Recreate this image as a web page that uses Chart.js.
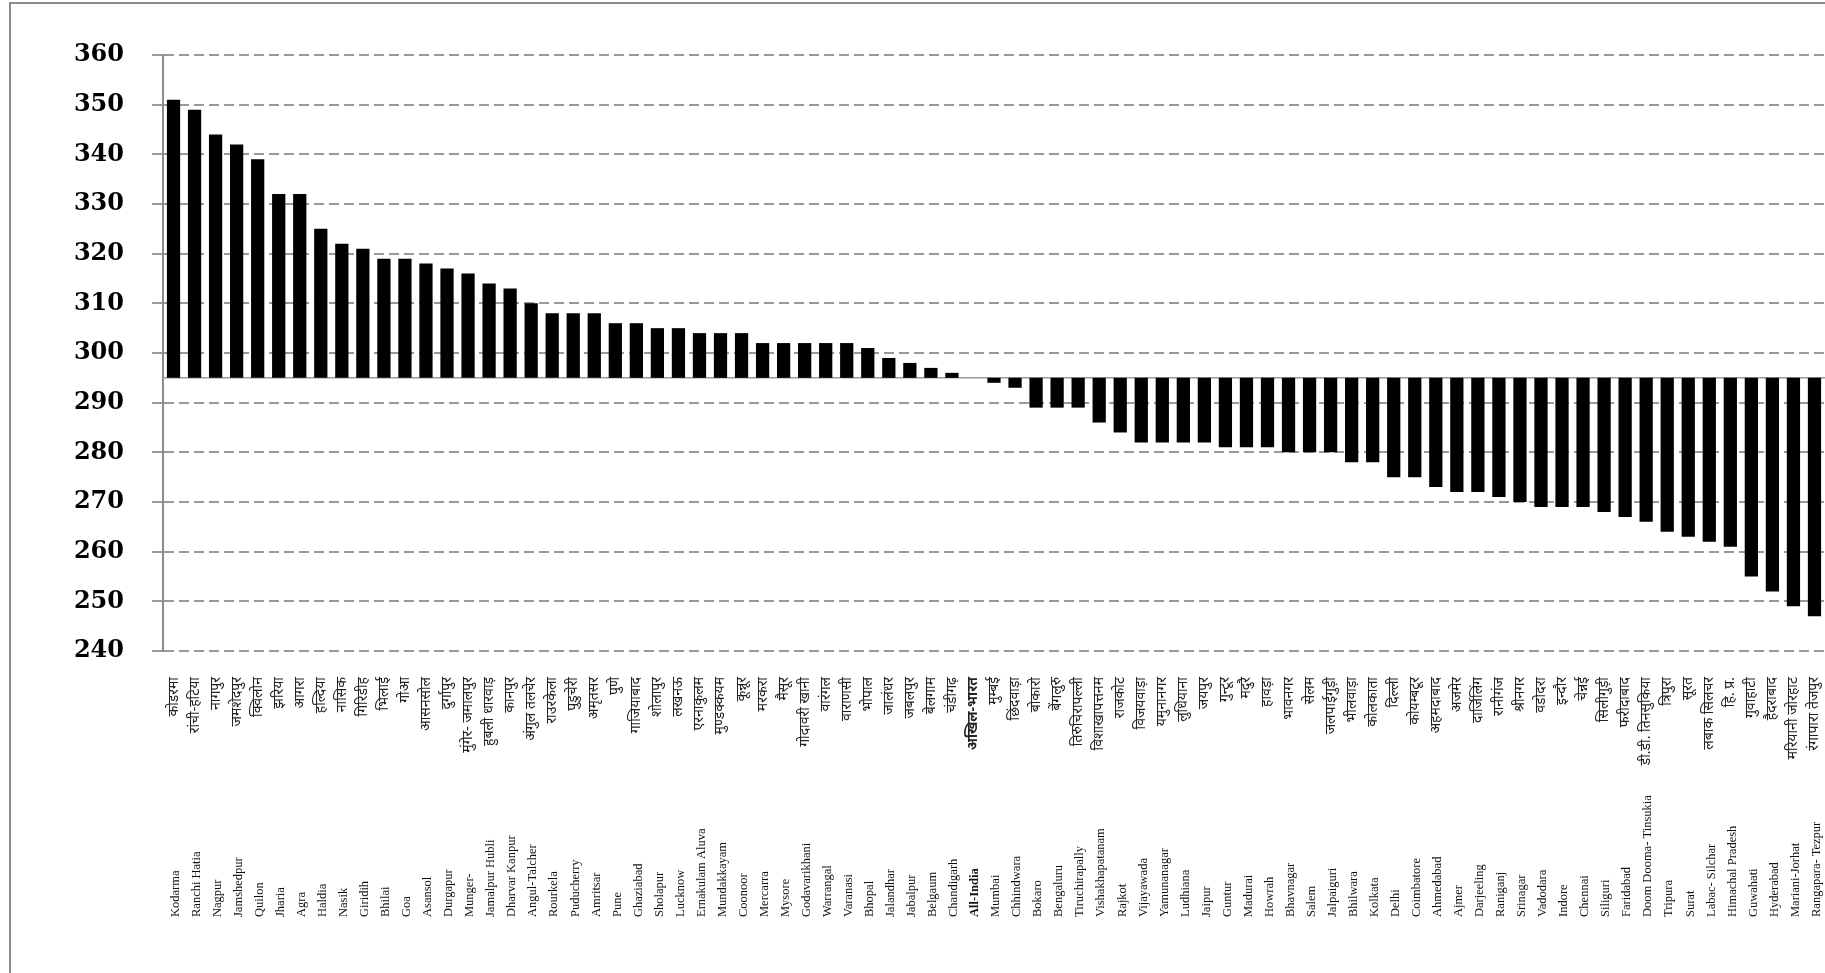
<!DOCTYPE html>
<html>
<head>
<meta charset="utf-8">
<script src="https://cdn.jsdelivr.net/npm/chart.js@4/dist/chart.umd.min.js"></script>
<style>
  html, body { margin: 0; padding: 0; background: #fff; overflow: hidden; }
  #frame { position: absolute; left: 9px; top: 2px; width: 3000px; height: 3000px; border: 2px solid #8c8c8c; box-sizing: border-box; }
  #wrap { position: absolute; left: 0; top: 0; width: 1825px; height: 973px; }
</style>
</head>
<body>
<div id="frame"></div>
<div id="wrap"><canvas id="c" width="1825" height="973"></canvas></div>
<script>
const categoriesHi = [
  'कोडरमा','रांची-हटिया','नागपुर','जमशेदपुर','क्विलोन','झरिया','आगरा','हल्दिया','नासिक','गिरिडीह',
  'भिलाई','गोआ','आसनसोल','दुर्गापुर','मुंगेर- जमालपुर','हुबली धारवाड़','कानपुर','अंगुल तलचेर','राउरकेला','पुडुचेरी',
  'अमृतसर','पुणे','गाजियाबाद','शोलापुर','लखनऊ','एरनाकुलम','मुण्डक्कयम','कून्नूर','मरकरा','मैसूर',
  'गोदावरी खानी','वारंगल','वाराणसी','भोपाल','जालंधर','जबलपुर','बेलगाम','चंडीगढ़','अखिल-भारत','मुम्बई',
  'छिंदवाड़ा','बोकारो','बेंगलुरु','तिरुचिरापल्ली','विशाखापत्तनम','राजकोट','विजयवाड़ा','यमुनानगर','लुधियाना','जयपुर',
  'गुन्टूर','मदुरै','हावड़ा','भावनगर','सेलम','जलपाईगुड़ी','भीलवाड़ा','कोलकाता','दिल्ली','कोयम्बटूर',
  'अहमदाबाद','अजमेर','दार्जिलिंग','रानीगंज','श्रीनगर','वडोदरा','इन्दौर','चेन्नई','सिलीगुड़ी','फरीदाबाद',
  'डी.डी. तिनसुकिया','त्रिपुरा','सूरत','लबाक सिलचर','हि. प्र.','गुवाहाटी','हैदराबाद','मरियानी जोरहाट','रंगापारा तेजपुर'
];
const categoriesEn = [
  'Kodarma','Ranchi Hatia','Nagpur','Jamshedpur','Quilon','Jharia','Agra','Haldia','Nasik','Giridih',
  'Bhilai','Goa','Asansol','Durgapur','Munger-','Jamalpur Hubli','Dharvar Kanpur','Angul-Talcher','Rourkela','Puducherry',
  'Amritsar','Pune','Ghaziabad','Sholapur','Lucknow','Ernakulam Aluva','Mundakkayam','Coonoor','Mercarra','Mysore',
  'Godavarikhani','Warrangal','Varanasi','Bhopal','Jalandhar','Jabalpur','Belgaum','Chandigarh','All-India','Mumbai',
  'Chhindwara','Bokaro','Bengaluru','Tiruchirapally','Vishakhapatanam','Rajkot','Vijayawada','Yamunanagar','Ludhiana','Jaipur',
  'Guntur','Madurai','Howrah','Bhavnagar','Salem','Jalpaiguri','Bhilwara','Kolkata','Delhi','Coimbatore',
  'Ahmedabad','Ajmer','Darjeeling','Raniganj','Srinagar','Vadodara','Indore','Chennai','Siliguri','Faridabad',
  'Doom Dooma- Tinsukia','Tripura','Surat','Labac- Silchar','Himachal Pradesh','Guwahati','Hyderabad','Mariani-Jorhat','Rangapara- Tezpur'
];
const indexValues = [
  351,349,344,342,339,332,332,325,322,321,
  319,319,318,317,316,314,313,310,308,308,
  308,306,306,305,305,304,304,304,302,302,
  302,302,302,301,299,298,297,296,295,294,
  293,289,289,289,286,284,282,282,282,282,
  281,281,281,280,280,280,278,278,275,275,
  273,272,272,271,270,269,269,269,268,267,
  266,264,263,262,261,255,252,249,247
];
const baseValue = 295;
const yMin = 240, yMax = 360, yStep = 10;
const boldIndex = categoriesEn.indexOf('All-India');

const baselinePlugin = {
  id: 'baseline',
  beforeDatasetsDraw(chart) {
    const y = chart.scales.y.getPixelForValue(baseValue);
    const a = chart.chartArea;
    const ctx = chart.ctx;
    ctx.save();
    ctx.strokeStyle = '#9a9a9a';
    ctx.lineWidth = 1.5;
    ctx.beginPath();
    ctx.moveTo(a.left, y);
    ctx.lineTo(a.right, y);
    ctx.stroke();
    ctx.restore();
  }
};

const englishLabelsPlugin = {
  id: 'englishLabels',
  afterDraw(chart) {
    const xs = chart.scales.x;
    const ctx = chart.ctx;
    ctx.save();
    ctx.fillStyle = '#111';
    ctx.textAlign = 'left';
    ctx.textBaseline = 'middle';
    categoriesEn.forEach((lab, i) => {
      const x = xs.getPixelForValue(i) + 2;
      ctx.font = (i === boldIndex ? 'bold ' : '') + '12.5px "Liberation Serif", "Times New Roman", serif';
      ctx.save();
      ctx.translate(x, 917);
      ctx.rotate(-Math.PI / 2);
      ctx.fillText(lab, 0, 0);
      ctx.restore();
    });
    ctx.restore();
  }
};

new Chart(document.getElementById('c'), {
  type: 'bar',
  data: {
    labels: categoriesHi,
    datasets: [{
      data: indexValues,
      base: baseValue,
      backgroundColor: '#000',
      borderWidth: 0,
      barPercentage: 0.63,
      categoryPercentage: 1.0
    }]
  },
  options: {
    responsive: false,
    animation: false,
    devicePixelRatio: 1,
    layout: { padding: { top: 55, left: 0, right: 0, bottom: 0 } },
    plugins: { legend: { display: false }, tooltip: { enabled: false } },
    scales: {
      x: {
        grid: { display: false, drawTicks: false },
        border: { display: false },
        ticks: {
          autoSkip: false,
          maxRotation: 90,
          minRotation: 90,
          padding: 26,
          color: '#222',
          font: (ctx) => ({ family: '"Noto Sans", "DejaVu Sans", sans-serif', size: 14, weight: ctx.index === boldIndex ? 'bold' : 'normal' })
        },
        afterFit: (s) => { s.height = 973 - 651; s.paddingLeft = 0; s.paddingRight = 0; }
      },
      y: {
        min: yMin,
        max: yMax,
        ticks: {
          stepSize: yStep,
          padding: 28,
          color: '#000',
          font: { family: '"DejaVu Serif", "Liberation Serif", serif', size: 24, weight: 'bold' }
        },
        grid: {
          color: '#999',
          lineWidth: 2,
          tickLength: 11,
          tickBorderDash: [],
          tickColor: '#999'
        },
        border: { display: true, color: '#8c8c8c', width: 2, dash: [10, 5] },
        afterFit: (s) => { s.width = 163; }
      }
    }
  },
  plugins: [baselinePlugin, englishLabelsPlugin]
});
</script>
</body>
</html>
